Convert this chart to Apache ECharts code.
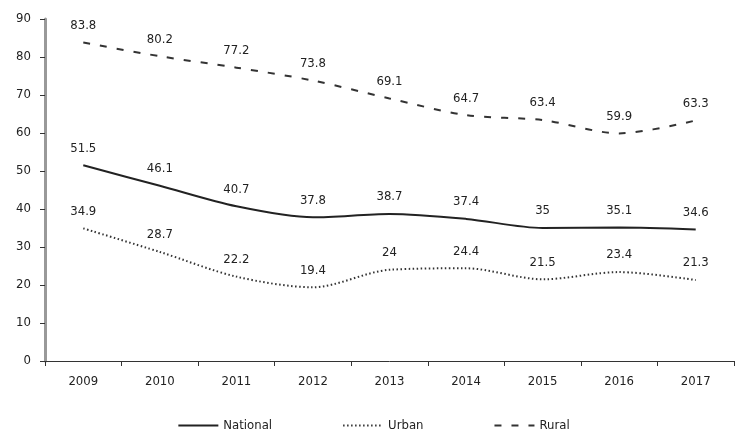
<!DOCTYPE html>
<html><head><meta charset="utf-8">
<script src="https://cdn.jsdelivr.net/npm/echarts@6/dist/echarts.min.js"></script>
<style>html,body{margin:0;padding:0;background:#fff}#c{width:747px;height:441px}</style>
</head><body><div id="c"></div>
<script>
const years = ['2009','2010','2011','2012','2013','2014','2015','2016','2017'];
const national = [51.5, 46.1, 40.7, 37.8, 38.7, 37.4, 35, 35.1, 34.6];
const urban = [34.9, 28.7, 22.2, 19.4, 24, 24.4, 21.5, 23.4, 21.3];
const rural = [83.8, 80.2, 77.2, 73.8, 69.1, 64.7, 63.4, 59.9, 63.3];
const yTicks = {min: 0, max: 90, interval: 10};
const FONT = '"DejaVu Sans Condensed","Liberation Sans Narrow",sans-serif';
const chart = echarts.init(document.getElementById('c'));
const lbl = {show: true, position: 'top', distance: 10, color: '#222', fontSize: 13, fontFamily: FONT};
const noSym = {symbol: 'circle', symbolSize: 1, showSymbol: true, itemStyle: {color: 'transparent'}};
chart.setOption({
  animation: false,
  textStyle: {fontFamily: FONT},
  grid: {left: 45, right: 13, top: 19, bottom: 80},
  legend: {
    bottom: 4, left: 'center', itemGap: 70, itemWidth: 40, itemHeight: 10,
    textStyle: {color: '#222', fontSize: 13, fontFamily: FONT},
    data: ['National', 'Urban', 'Rural']
  },
  xAxis: {
    type: 'category', data: years, boundaryGap: true,
    axisLine: {lineStyle: {color: '#333', width: 1}},
    axisTick: {show: true, length: 5, lineStyle: {color: '#333'}},
    axisLabel: {color: '#222', fontSize: 13, margin: 14, fontFamily: FONT}
  },
  yAxis: {
    type: 'value', min: yTicks.min, max: yTicks.max, interval: yTicks.interval,
    axisLine: {show: true, lineStyle: {color: '#999', width: 3}},
    axisTick: {show: true, length: 5, lineStyle: {color: '#333'}},
    splitLine: {show: false},
    axisLabel: {color: '#222', fontSize: 13, margin: 14, fontFamily: FONT}
  },
  series: [
    Object.assign({name: 'National', type: 'line', data: national, smooth: 0.3,
     lineStyle: {color: '#222', width: 2, type: 'solid'}, label: lbl}, noSym),
    Object.assign({name: 'Urban', type: 'line', data: urban, smooth: 0.3,
     lineStyle: {color: '#333', width: 2, type: [1.5, 2.5]}, label: lbl}, noSym),
    Object.assign({name: 'Rural', type: 'line', data: rural, smooth: 0.3,
     lineStyle: {color: '#333', width: 2, type: [7, 10]}, label: lbl}, noSym)
  ]
});
</script></body></html>
